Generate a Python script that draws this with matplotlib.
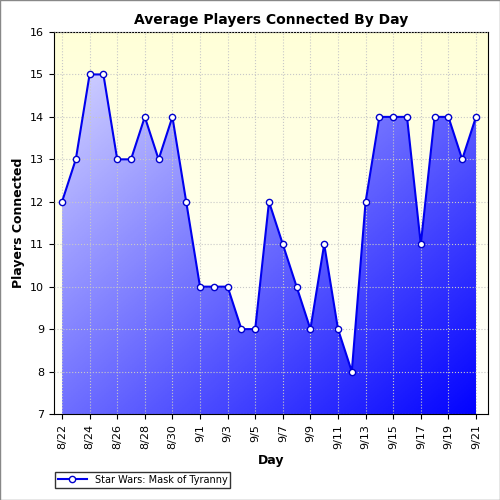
import matplotlib
matplotlib.use("Agg")
import matplotlib.pyplot as plt
import numpy as np
from matplotlib.colors import LinearSegmentedColormap

days = ["8/22","8/23","8/24","8/25","8/26","8/27","8/28","8/29","8/30","8/31",
        "9/1","9/2","9/3","9/4","9/5","9/6","9/7","9/8","9/9","9/10",
        "9/11","9/12","9/13","9/14","9/15","9/16","9/17","9/18","9/19","9/20","9/21"]
players = [12,13,15,15,13,13,14,13,14,12,10,10,10,9,9,12,11,10,9,11,9,8,12,14,14,14,11,14,14,13,14]
series_name = "Star Wars: Mask of Tyranny"

x = np.arange(len(days))
fig = plt.figure(figsize=(5,5), dpi=100)
ax = fig.add_axes([0.108, 0.172, 0.868, 0.764])
xmin, xmax, ymin, ymax = -0.58, len(days)-1+0.87, 7, 16
ax.set_xlim(xmin, xmax); ax.set_ylim(ymin, ymax)

# background gradient (light yellow top to white bottom)
bg = LinearSegmentedColormap.from_list("bg", ["#ffffff", "#ffffd8"])
g = np.linspace(0,1,256).reshape(-1,1)
ax.imshow(g, cmap=bg, extent=[xmin,xmax,ymin,ymax], origin="lower", aspect="auto", zorder=0)

# fill gradient
fc = LinearSegmentedColormap.from_list("fc", ["#e0e0ff", "#0000ff"])
xx, yy = np.meshgrid(np.linspace(0,1,200), np.linspace(0,1,200))
grad = (xx + (1-yy))/2
im = ax.imshow(grad, cmap=fc, extent=[xmin,xmax,ymin,ymax], origin="lower", aspect="auto", zorder=1)
poly = ax.fill_between(x, players, ymin, color="none")
path = poly.get_paths()[0]
import matplotlib.patches as mp
patch = mp.PathPatch(path, transform=ax.transData, facecolor="none", edgecolor="none")
ax.add_patch(patch)
im.set_clip_path(patch)

ax.grid(True, color="#c8c8c8", linestyle=":", linewidth=0.8, zorder=0.5)
ax.set_axisbelow(False)
ax.plot(x, players, color="#0000ee", linewidth=1.5, marker="o", markersize=4.5,
        markerfacecolor="white", markeredgecolor="#0000cc", zorder=3, label=series_name)

ax.set_xticks(x[::2]); ax.set_xticklabels(days[::2], rotation=90, fontsize=8)
ax.set_yticks(range(7,17)); ax.tick_params(labelsize=8)
ax.set_xlabel("Day", fontsize=9, fontweight="bold")
ax.set_ylabel("Players Connected", fontsize=9, fontweight="bold")
ax.set_title("Average Players Connected By Day", fontsize=10, fontweight="bold")
fig.legend(loc="lower left", bbox_to_anchor=(0.1, 0.015), fontsize=7, frameon=True,
           fancybox=False, edgecolor="black", handlelength=3, borderpad=0.3)
fig.patches.append(mp.Rectangle((0,0),1,1,transform=fig.transFigure,fill=False,edgecolor="#888888",lw=1))
fig.savefig("out.png", dpi=100)
